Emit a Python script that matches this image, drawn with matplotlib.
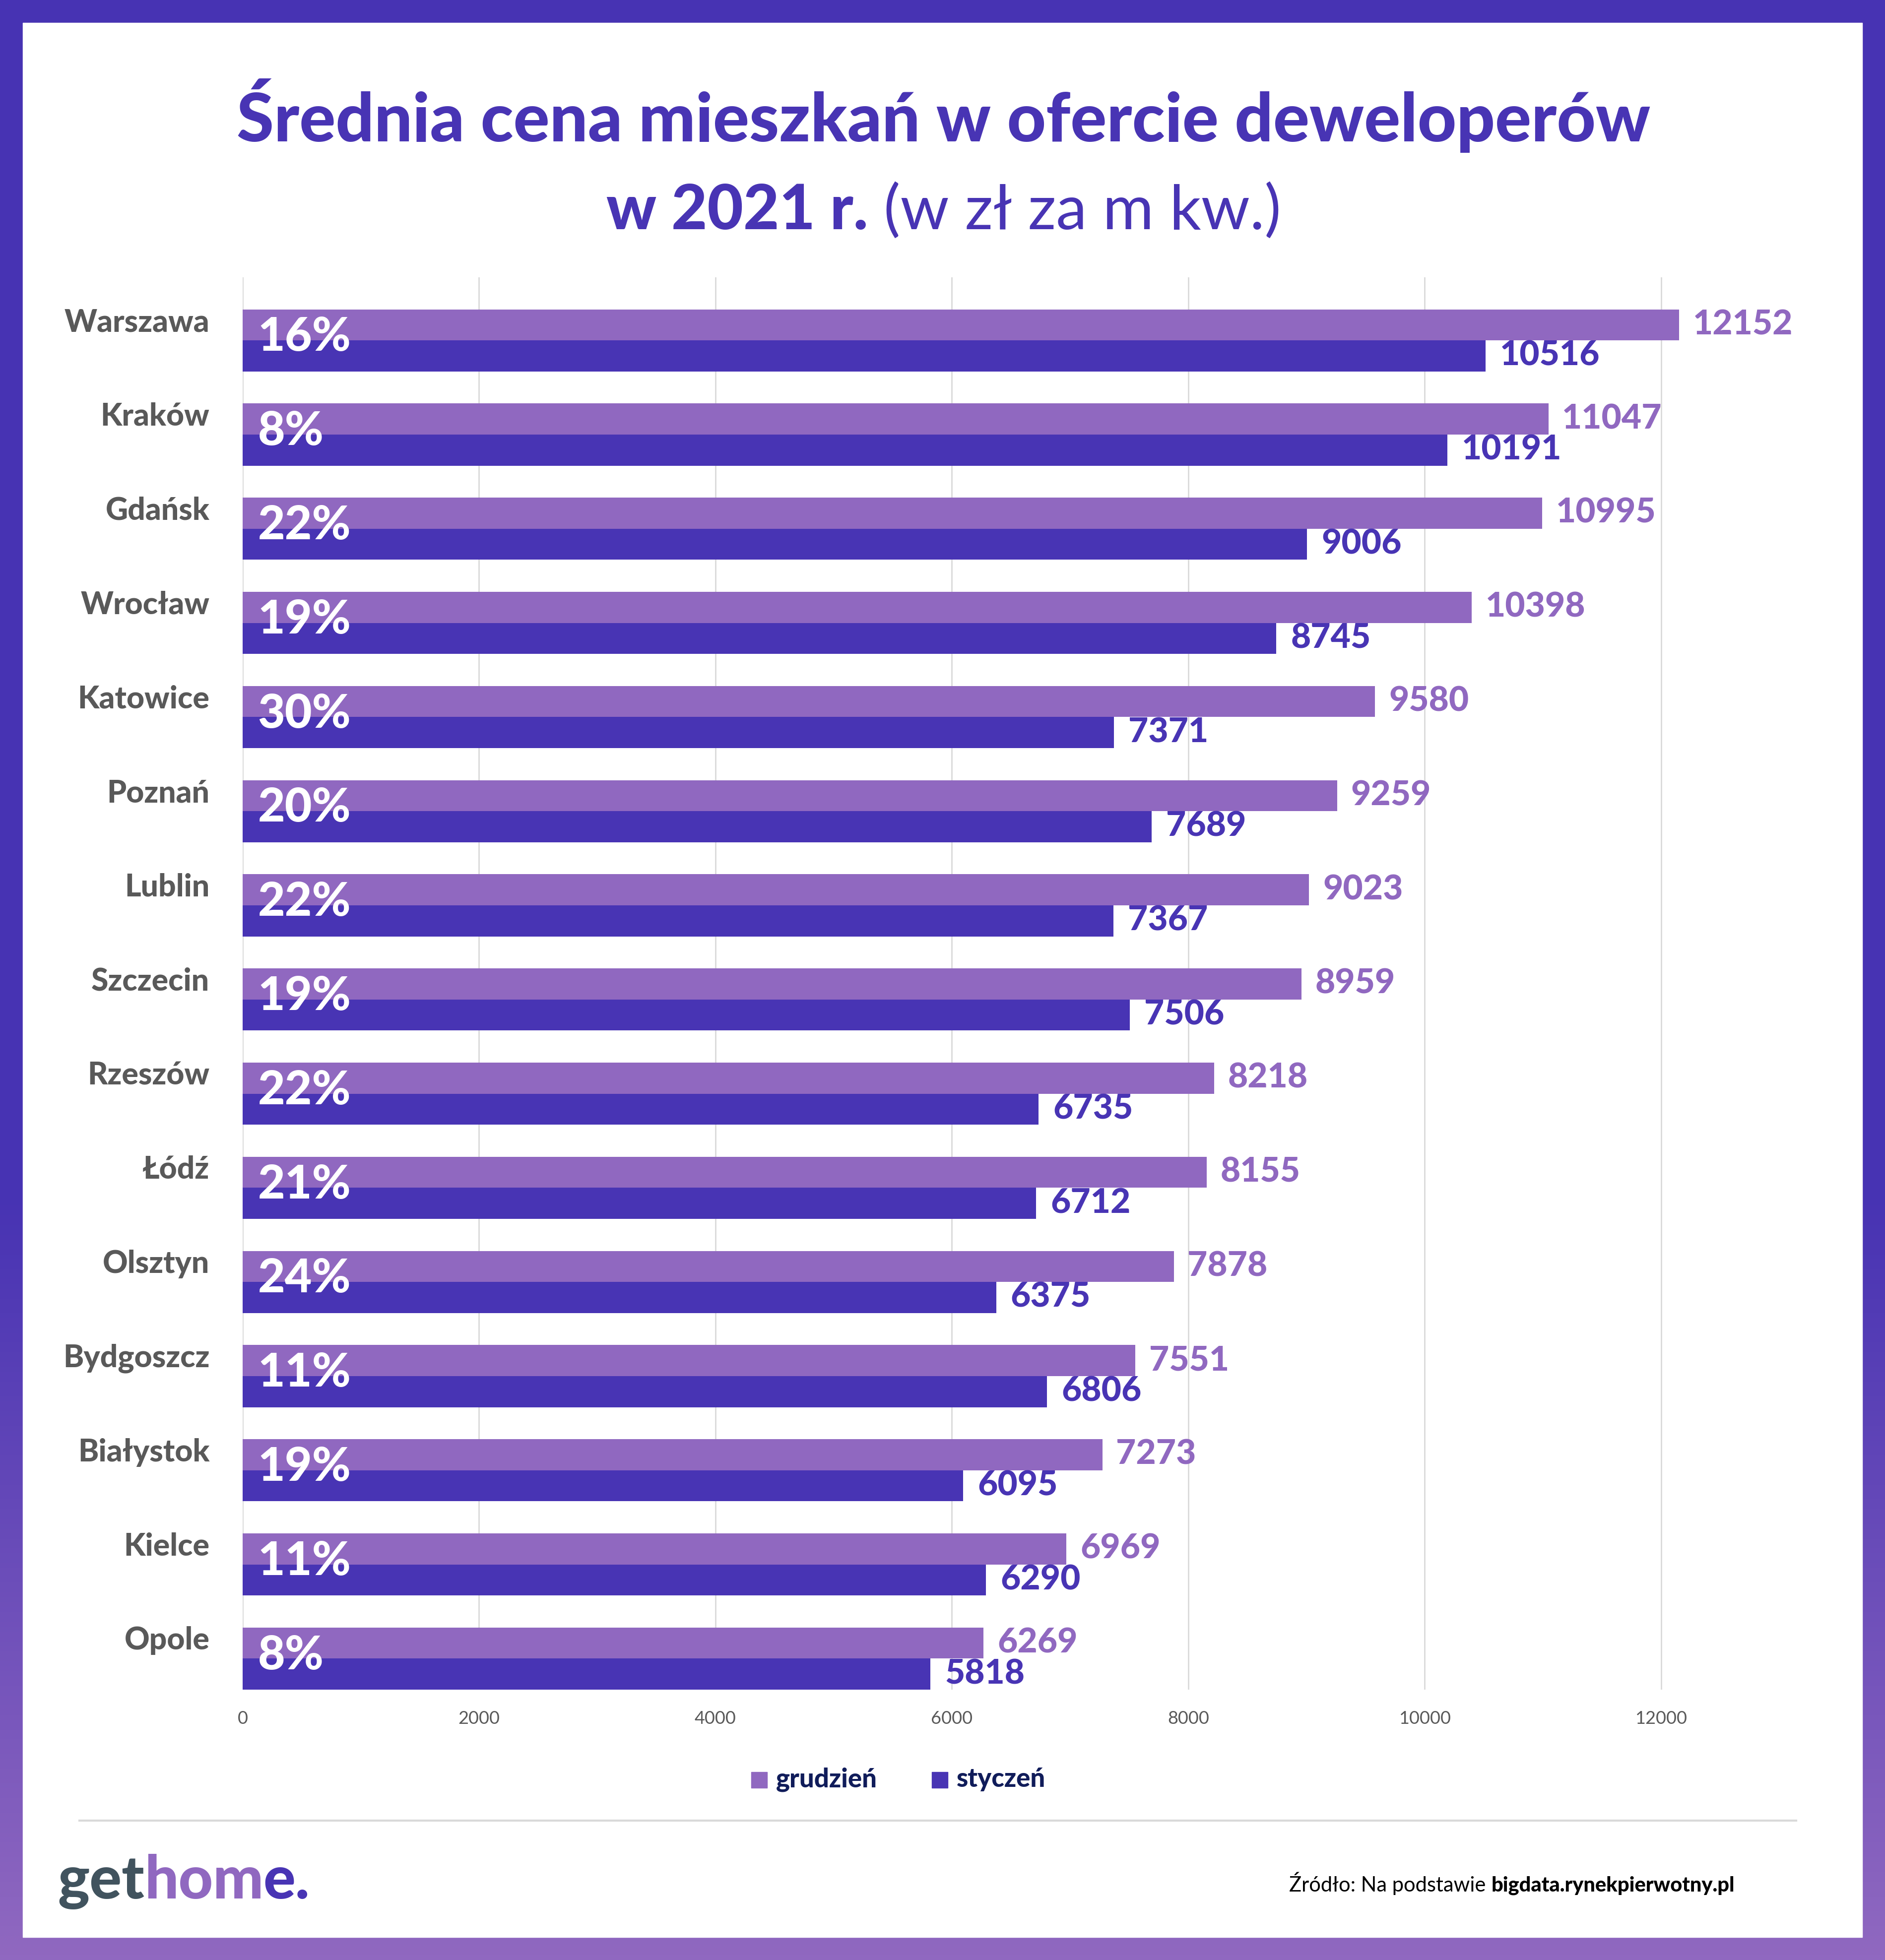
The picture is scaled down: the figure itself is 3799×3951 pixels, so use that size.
import matplotlib
matplotlib.use("Agg")
import matplotlib.pyplot as plt
from matplotlib.patches import Rectangle
from matplotlib.colors import LinearSegmentedColormap
import numpy as np

W, H = 3799, 3951

# dane
miasta = ["Warszawa", "Kraków", "Gdańsk", "Wrocław", "Katowice", "Poznań", "Lublin",
          "Szczecin", "Rzeszów", "Łódź", "Olsztyn", "Bydgoszcz", "Białystok", "Kielce", "Opole"]
grudzien = [12152, 11047, 10995, 10398, 9580, 9259, 9023, 8959, 8218, 8155, 7878, 7551, 7273, 6969, 6269]
styczen = [10516, 10191, 9006, 8745, 7371, 7689, 7367, 7506, 6735, 6712, 6375, 6806, 6095, 6290, 5818]
zmiana = [16, 8, 22, 19, 30, 20, 22, 19, 22, 21, 24, 11, 19, 11, 8]
ticki = [0, 2000, 4000, 6000, 8000, 10000, 12000]

C_GRU = "#9068c0"
C_STY = "#4834b4"
C_TITLE = "#4834b4"
FONT = "Lato"
HEAVY = "black"

plt.rcParams['font.family'] = [FONT, 'DejaVu Sans']

fig = plt.figure(figsize=(W / 100, H / 100), dpi=100)

# tlo z ramka (gradient)
bg = fig.add_axes([0, 0, 1, 1], zorder=-10)
yy = np.linspace(0, 1, 400)
t = np.clip((yy - 0.61) / 0.39, 0, 1)
grad = t.reshape(-1, 1)
cmap = LinearSegmentedColormap.from_list("rama", ["#4733b3", "#9068c0"])
bg.imshow(grad, aspect="auto", cmap=cmap, extent=[0, 1, 1, 0], vmin=0, vmax=1)
bg.set_xlim(0, 1)
bg.set_ylim(1, 0)
bg.add_patch(Rectangle((46 / W, 46 / H), 1 - 92 / W, 1 - 92 / H, color="white",
                       transform=bg.transAxes))
bg.axis("off")

def fx(px):
    return px / W

def fy(py):
    return 1 - py / H

# wykres
x0, x1 = 489, 3705
xmax = 13500
ax = fig.add_axes([fx(x0), fy(3406), fx(x1) - fx(x0), fy(559) - fy(3406)])
ax.set_facecolor("none")

n = len(miasta)
y = np.arange(n)
h = 0.33
ax.barh(y - h / 2, grudzien, height=h, color=C_GRU, zorder=3)
ax.barh(y + h / 2, styczen, height=h, color=C_STY, zorder=3)

ax.set_xlim(0, xmax)
ax.set_ylim(14.33, -0.67)
ax.set_xticks(ticki)
ax.set_xticklabels([str(v) for v in ticki], fontsize=26, color="#595959", family=FONT)
ax.tick_params(axis="x", length=0, pad=30)
ax.set_yticks([])
for s in ax.spines.values():
    s.set_visible(False)
ax.grid(axis="x", color="#d9d9d9", linewidth=2, zorder=0)

for i in range(n):
    ax.annotate(str(grudzien[i]), (grudzien[i], i - h / 2), xytext=(20, 0),
                textcoords="offset points", va="center", ha="left",
                fontsize=50, fontweight=HEAVY, color=C_GRU, zorder=5)
    ax.annotate(str(styczen[i]), (styczen[i], i + h / 2), xytext=(21, 0),
                textcoords="offset points", va="center", ha="left",
                fontsize=50, fontweight=HEAVY, color=C_STY, zorder=5)
    ax.annotate(f"{zmiana[i]}%", (0, i - 0.03), xytext=(22, 0),
                textcoords="offset points", va="center", ha="left",
                fontsize=68, fontweight=HEAVY, color="white", zorder=6)
    ax.annotate(miasta[i], (0, i - 0.19), xytext=(-48, 0),
                textcoords="offset points", va="center", ha="right",
                fontsize=45, fontweight=HEAVY, color="#595959")

# tytul
fig.text(fx(1902), fy(285), "Średnia cena mieszkań w ofercie deweloperów",
         ha="center", va="baseline", fontsize=98, fontweight=HEAVY, color=C_TITLE)
r = fig.canvas.get_renderer()
t1 = fig.text(0, fy(462), "w 2021 r.", ha="left", va="baseline",
              fontsize=90, fontweight=HEAVY, color=C_TITLE)
t2 = fig.text(0, fy(462), " (w zł za m kw.)", ha="left", va="baseline",
              fontsize=90, fontweight="normal", color=C_TITLE)
w1 = t1.get_window_extent(r).width
w2 = t2.get_window_extent(r).width
start = 1902 - (w1 + w2) / 2
t1.set_x(fx(start))
t2.set_x(fx(start + w1))

# legenda
for sx, label, col in [(1514, "grudzień", C_GRU), (1878, "styczeń", C_STY)]:
    fig.patches.append(Rectangle((fx(sx), fy(3604)), 32 / W, 32 / H, color=col,
                                 transform=fig.transFigure, figure=fig))
    fig.text(fx(sx + 50), fy(3602), label, ha="left", va="baseline",
             fontsize=38, fontweight=HEAVY, color="#101c5a")

# linia
fig.add_artist(plt.Line2D([fx(160), fx(3620)], [fy(3670), fy(3670)],
                          color="#d9d9d9", linewidth=3, transform=fig.transFigure))

# logo
xs = 116
for part, col in [("get", "#41535e"), ("hom", "#9068c0"), ("e.", "#4834b4")]:
    tt = fig.text(fx(xs), fy(3827), part, ha="left", va="baseline",
                  fontsize=87, fontweight=HEAVY, color=col)
    xs += tt.get_window_extent(r).width

# zrodlo
s1 = fig.text(0, fy(3813), "Źródło: Na podstawie ", ha="left", va="baseline",
              fontsize=30, color="black")
s2 = fig.text(0, fy(3813), "bigdata.rynekpierwotny.pl", ha="left", va="baseline",
              fontsize=30, fontweight=HEAVY, color="black")
ws1 = s1.get_window_extent(r).width
ws2 = s2.get_window_extent(r).width
s2.set_x(fx(3496 - ws2))
s1.set_x(fx(3496 - ws2 - ws1))

fig.savefig("out.png", dpi=100)
